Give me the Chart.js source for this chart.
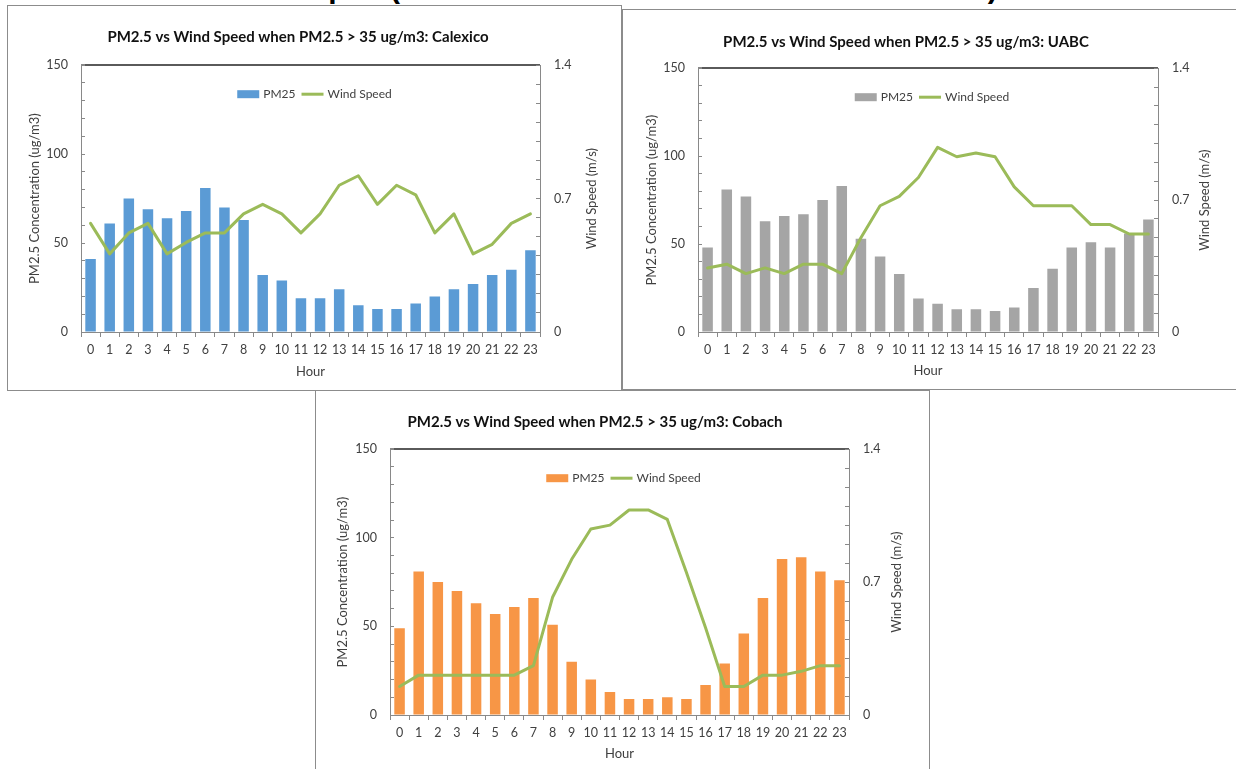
<!DOCTYPE html>
<html>
<head>
<meta charset="utf-8">
<script src="https://cdn.jsdelivr.net/npm/chart.js@4.4.1/dist/chart.umd.min.js"></script>
<style>
html,body{margin:0;padding:0;background:#fff;width:1236px;height:769px;overflow:hidden;position:relative;}
.panel{position:absolute;border:1px solid #8c8c8c;box-sizing:border-box;background:#fff;}
canvas{position:absolute;}
#hdr{position:absolute;left:165px;top:-27px;font:bold 30px 'Liberation Sans',sans-serif;line-height:30px;white-space:nowrap;color:#000;}
#hdr span{letter-spacing:1.7px;}
</style>
</head>
<body>
<div class="panel" style="left:7px;top:5px;width:615px;height:386px;"></div>
<div class="panel" style="left:622px;top:9px;width:620px;height:381px;"></div>
<div class="panel" style="left:315px;top:390px;width:615px;height:390px;"></div>
<div id="hdr">Diurnal Graphs <span>(CALEXICO – UABC – COBACH SITES)</span></div>

<canvas id="c1" width="604" height="383" style="left:-4px;top:6px;width:604px;height:383px;"></canvas>
<canvas id="c2" width="614" height="378" style="left:599px;top:10px;width:614px;height:378px;"></canvas>
<canvas id="c3" width="620" height="378" style="left:285px;top:391px;width:620px;height:378px;"></canvas>

<script>
// ---------- data ----------
const hours = ['0','1','2','3','4','5','6','7','8','9','10','11','12','13','14','15','16','17','18','19','20','21','22','23'];

const calexicoPM25 = [41,61,75,69,64,68,81,70,63,32,29,19,19,24,15,13,13,16,20,24,27,32,35,46];
const calexicoWind = [0.57,0.41,0.52,0.57,0.41,0.47,0.52,0.52,0.62,0.67,0.62,0.52,0.62,0.77,0.82,0.67,0.77,0.72,0.52,0.62,0.41,0.46,0.57,0.62];

const uabcPM25 = [48,81,77,63,66,67,75,83,53,43,33,19,16,13,13,12,14,25,36,48,51,48,56,64];
const uabcWind = [0.34,0.36,0.31,0.34,0.31,0.36,0.36,0.31,0.50,0.67,0.72,0.82,0.98,0.93,0.95,0.93,0.77,0.67,0.67,0.67,0.57,0.57,0.52,0.52];

const cobachPM25 = [49,81,75,70,63,57,61,66,51,30,20,13,9,9,10,9,17,29,46,66,88,89,81,76];
const cobachWind = [0.15,0.21,0.21,0.21,0.21,0.21,0.21,0.26,0.62,0.82,0.98,1.00,1.08,1.08,1.03,0.75,0.46,0.15,0.15,0.21,0.21,0.23,0.26,0.26];

const leftTicks = [0,50,100,150];
const rightTicks = [0,0.7,1.4];

const barLabel = 'PM25';
const lineLabel = 'Wind Speed';
const xTitle = 'Hour';
const yTitle = 'PM2.5 Concentration (ug/m3)';
const y1Title = 'Wind Speed (m/s)';
const titleBase = 'PM2.5 vs Wind Speed when PM2.5 > 35 ug/m3: ';

// ---------- styling ----------
const FONT = 'Lato, "Open Sans", sans-serif';
const TXT = '#404040';
const AXIS = '#898989';
const GREEN = '#9BBB59';

const insideLegend = {
  id: 'insideLegend',
  afterDatasetsDraw(chart, args, opts) {
    const {ctx, chartArea} = chart;
    const ds = chart.data.datasets;
    ctx.save();
    ctx.font = '12px ' + FONT;
    const sw = 22, gapText = 4, gapItem = 6;
    const items = ds.map(d => ({d, w: ctx.measureText(d.label).width}));
    const total = items.reduce((s, it) => s + sw + gapText + it.w, 0) + gapItem * (items.length - 1);
    let x = (chartArea.left + chartArea.right) / 2 - total / 2 + (opts.dx || 0);
    const y = chartArea.top + (opts.dy || 0);
    items.forEach(it => {
      if (it.d.type === 'line') {
        ctx.strokeStyle = it.d.borderColor;
        ctx.lineWidth = 3;
        ctx.beginPath(); ctx.moveTo(x, y); ctx.lineTo(x + sw, y); ctx.stroke();
      } else {
        ctx.fillStyle = it.d.backgroundColor;
        ctx.fillRect(x, y - 4, sw, 8);
      }
      x += sw + gapText;
      ctx.fillStyle = TXT;
      ctx.textBaseline = 'middle';
      ctx.textAlign = 'left';
      ctx.fillText(it.d.label, x, y);
      x += it.w + gapItem;
    });
    ctx.restore();
  }
};

// right axis title reading bottom-to-top, like the original
const rightAxisTitle = {
  id: 'rightAxisTitle',
  afterDraw(chart, args, opts) {
    const {ctx, chartArea} = chart;
    const s = chart.scales.y1;
    ctx.save();
    ctx.font = '13px ' + FONT;
    ctx.fillStyle = TXT;
    ctx.textAlign = 'center';
    ctx.textBaseline = 'middle';
    ctx.translate(s.right - 7.5, (chartArea.top + chartArea.bottom) / 2);
    ctx.rotate(-Math.PI / 2);
    ctx.fillText(opts.text, 0, 0);
    ctx.restore();
  }
};

function build(id, site, barData, barColor, windData, g) {
  return new Chart(document.getElementById(id), {
    type: 'bar',
    data: {
      labels: hours,
      datasets: [
        { type: 'bar', label: barLabel, data: barData, backgroundColor: barColor, borderWidth: 0,
          categoryPercentage: 1, barPercentage: 0.55, yAxisID: 'y', order: 1 },
        { type: 'line', label: lineLabel, data: windData, borderColor: GREEN, backgroundColor: GREEN,
          borderWidth: 3, pointRadius: 0, pointHoverRadius: 0, tension: 0, borderJoinStyle: 'round',
          borderCapStyle: 'round', yAxisID: 'y1', order: 0 }
      ]
    },
    options: {
      responsive: false,
      animation: false,
      devicePixelRatio: 1,
      layout: { padding: { left: g.pl, right: g.pr, top: 0, bottom: g.pb } },
      plugins: {
        title: { display: true, text: titleBase + site, color: '#111',
          font: { family: FONT, size: 15, weight: 'bold' }, padding: { top: g.tt, bottom: g.tb } },
        legend: { display: false },
        tooltip: { enabled: false },
        insideLegend: { dx: 4, dy: 29 },
        rightAxisTitle: { text: y1Title }
      },
      scales: {
        x: {
          offset: true,
          grid: { offset: true, drawOnChartArea: false, drawTicks: true, tickLength: 5, tickColor: AXIS, color: AXIS },
          border: { color: AXIS, width: 1 },
          ticks: { autoSkip: false, maxRotation: 0, minRotation: 0, padding: 5, color: TXT, font: { family: FONT, size: 12.5 } },
          title: { display: true, text: xTitle, color: TXT, font: { family: FONT, size: 13 }, padding: { top: 0, bottom: 0 } },
          afterFit(s) { s.height = g.H; }
        },
        y: {
          position: 'left', min: 0, max: 150,
          ticks: { stepSize: 10, maxTicksLimit: 100, autoSkip: false, padding: 17, color: TXT,
            font: { family: FONT, size: 12.5 },
            callback: v => leftTicks.includes(v) ? String(v) : '' },
          grid: { drawOnChartArea: true, drawTicks: true, tickLength: -4, tickColor: AXIS,
            color: c => (c.tick && c.tick.value === 150) ? '#5a5a5a' : 'rgba(0,0,0,0)',
            lineWidth: c => (c.tick && c.tick.value === 150) ? 2 : 1 },
          border: { color: AXIS, width: 1 },
          title: { display: true, text: yTitle, color: TXT, font: { family: FONT, size: 13 }, padding: { top: g.ltp, bottom: 0 } },
          afterFit(s) { s.width = g.WL; }
        },
        y1: {
          position: 'right', min: 0, max: 1.4,
          ticks: { stepSize: 0.1, maxTicksLimit: 100, autoSkip: false, padding: 18, color: TXT,
            font: { family: FONT, size: 12.5 },
            callback: v => { const k = Math.round(v * 10) / 10; return rightTicks.includes(k) ? String(k) : ''; } },
          grid: { drawOnChartArea: false, drawTicks: true, tickLength: -4, tickColor: AXIS, color: AXIS },
          border: { color: AXIS, width: 1 },
          title: { display: false, text: y1Title },
          afterFit(s) { s.width = g.WR; }
        }
      }
    },
    plugins: [insideLegend, rightAxisTitle]
  });
}

build('c1', 'Calexico', calexicoPM25, '#5B9BD5', calexicoWind,
  { pl: 0.8, pr: 0.8, pb: 9.2, tt: 22.6, tb: 18.6, H: 47.8, WL: 84.2, WR: 59.2, ltp: 30.4 });
build('c2', 'UABC', uabcPM25, '#A5A5A5', uabcWind,
  { pl: 0.8, pr: 0.8, pb: 9.2, tt: 23.6, tb: 16.6, H: 46.8, WL: 98.2, WR: 54.2, ltp: 44.4 });
build('c3', 'Cobach', cobachPM25, '#F79646', cobachWind,
  { pl: 0.8, pr: 0.8, pb: 7.2, tt: 22.6, tb: 17.6, H: 46.8, WL: 104.2, WR: 55.2, ltp: 49.4 });
</script>
</body>
</html>
